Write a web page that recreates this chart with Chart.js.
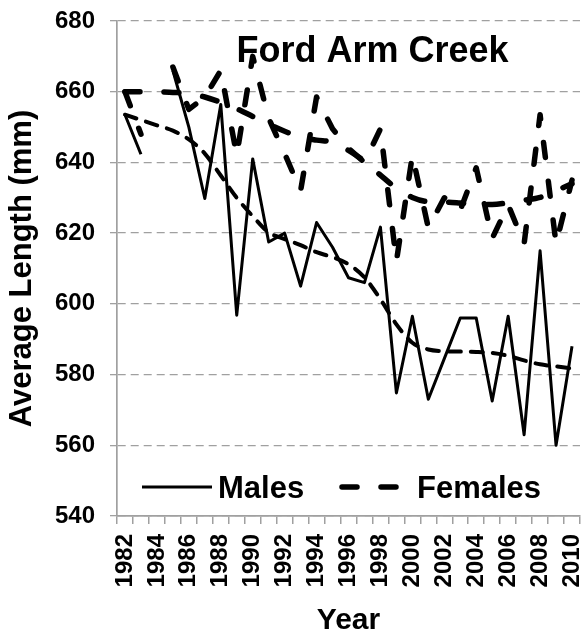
<!DOCTYPE html>
<html>
<head>
<meta charset="utf-8">
<script src="https://cdn.jsdelivr.net/npm/chart.js@4.4.1/dist/chart.umd.min.js"></script>
<style>
  html, body { margin: 0; padding: 0; background: #ffffff; }
  #wrap { width: 582px; height: 639px; position: relative; }
</style>
</head>
<body>
<div id="wrap"><canvas id="c"></canvas></div>
<script>
// ---- data ----
const years = ['1982','1983','1984','1985','1986','1987','1988','1989','1990','1991',
               '1992','1993','1994','1995','1996','1997','1998','1999','2000','2001',
               '2002','2003','2004','2005','2006','2007','2008','2009','2010'];

const males = [653.5, 642.3, null, 666, 650, 629.8, 656.4, 596.8, 641, 617.5,
               620, 605, 623, 616, 607.4, 606, 621.7, 574.8, 596.5, 573,
               584.5, 596, 596, 572.5, 596.5, 563, 615, 560, 588];

const females = [660, 648, null, 667, 655, 658.5, 666, 642, 670, 652.5,
                 642.5, 632, 658.5, 649.5, 644, 640, 649.5, 612, 642, 621.5,
                 630, 626.5, 638.5, 618.5, 628, 617, 653.5, 617, 635];

const malesTrend = [653.5, 652, 650.5, 649, 646.5, 642.5, 636.3, 630, 624.8, 620.2,
                    618.3, 616.6, 614.6, 613.2, 611.2, 607.5, 601.3, 594.2, 589, 587.1,
                    586.6, 586.5, 586.4, 586.1, 585.3, 584, 582.9, 582.3, 581.7];

const femalesTrend = [660, 660, 660, 659.8, 659.5, 658.5, 657, 655.2, 653, 650.8,
                      648.8, 647.2, 646.3, 645.7, 643.4, 640.3, 636.4, 632.7, 630.1, 628.9,
                      628.8, 628.5, 628.1, 628.1, 628.6, 629.3, 630.1, 632, 634];

const yMin = 540, yMax = 680, yStep = 20;
const titleText = 'Ford Arm Creek';
const xTitle = 'Year';
const yTitle = 'Average Length (mm)';
const seriesNames = ['Males', 'Females'];

// ---- drawing ----
const FONT = '"Liberation Sans", Arial, sans-serif';
const GRID = '#a0a0a0';

const insideText = {
  id: 'insideText',
  afterDraw(chart) {
    const ctx = chart.ctx;
    const a = chart.chartArea;
    ctx.save();
    // title inside the plot
    ctx.fillStyle = '#000';
    ctx.font = 'bold 36px ' + FONT;
    ctx.textAlign = 'center';
    ctx.textBaseline = 'alphabetic';
    ctx.fillText(titleText, a.left + 0.552 * (a.right - a.left), a.top + 41);

    // legend inside the plot
    const ly = a.bottom - 29;
    const ds = chart.data.datasets;
    const items = [
      { d: ds[0], x0: 142, x1: 212, tx: 218 },
      { d: ds[1], x0: 342, x1: 399, tx: 417 }
    ];
    items.forEach(it => {
      ctx.save();
      ctx.strokeStyle = it.d.borderColor;
      ctx.lineWidth = it.d.borderWidth;
      ctx.lineCap = it.d.borderCapStyle || 'butt';
      ctx.setLineDash(it.d.borderDash || []);
      ctx.beginPath();
      ctx.moveTo(it.x0, ly);
      ctx.lineTo(it.x1, ly);
      ctx.stroke();
      ctx.restore();
      ctx.fillStyle = '#000';
      ctx.font = 'bold 31px ' + FONT;
      ctx.textAlign = 'left';
      ctx.textBaseline = 'alphabetic';
      ctx.fillText(it.d.label, it.tx, ly + 11);
    });
    ctx.restore();
  }
};

new Chart(document.getElementById('c'), {
  type: 'line',
  data: {
    labels: years,
    datasets: [
      { label: seriesNames[0], data: males, borderColor: '#000', borderWidth: 3,
        borderCapStyle: 'butt', borderJoinStyle: 'round', pointRadius: 0, tension: 0, spanGaps: false, order: 1 },
      { label: seriesNames[1], data: females, borderColor: '#000', borderWidth: 5.5, borderDash: [15, 24],
        borderCapStyle: 'round', borderJoinStyle: 'round', pointRadius: 0, tension: 0, spanGaps: false, order: 2 },
      { label: 'Males trend', data: malesTrend, borderColor: '#000', borderWidth: 4, borderDash: [12, 10],
        borderCapStyle: 'round', pointRadius: 0, cubicInterpolationMode: 'monotone', order: 3 },
      { label: 'Females trend', data: femalesTrend, borderColor: '#000', borderWidth: 5.5, borderDash: [15, 24],
        borderCapStyle: 'round', pointRadius: 0, cubicInterpolationMode: 'monotone', order: 4 }
    ]
  },
  options: {
    responsive: true,
    maintainAspectRatio: false,
    animation: false,
    devicePixelRatio: 1,
    layout: { padding: { top: 21, right: 2, left: 0, bottom: 0 } },
    plugins: { legend: { display: false }, title: { display: false }, tooltip: { enabled: false } },
    scales: {
      x: {
        type: 'category',
        offset: true,
        grid: { display: true, offset: true, drawOnChartArea: false, drawTicks: true, tickLength: 8, color: GRID, lineWidth: 1.5 },
        border: { display: true, color: GRID, width: 1.7 },
        ticks: {
          autoSkip: false,
          minRotation: 90,
          maxRotation: 90,
          padding: 10,
          color: '#000',
          font: { family: FONT, size: 24, weight: 'bold' },
          callback: function (val, idx) { return idx % 2 === 0 ? years[idx] : ''; }
        },
        title: { display: true, text: xTitle, color: '#000',
          font: { family: FONT, size: 30, weight: 'bold', lineHeight: 1.2 }, padding: { top: 0, bottom: 0 } },
        afterCalculateLabelRotation(scale) { scale.labelRotation = 90; },
        afterFit(scale) { scale.height = 123; scale.paddingLeft = 0; scale.paddingRight = 0; }
      },
      y: {
        min: yMin,
        max: yMax,
        grid: { color: GRID, lineWidth: 1.3, tickBorderDash: [], drawTicks: true, tickLength: 7, tickColor: GRID },
        border: { display: true, color: GRID, width: 1.7, dash: [8, 5] },
        ticks: { stepSize: yStep, padding: 15, color: '#000', font: { family: FONT, size: 24, weight: 'bold' } },
        title: { display: true, text: yTitle, color: '#000',
          font: { family: FONT, size: 31, weight: 'bold', lineHeight: 1.2 }, padding: { top: 4, bottom: 0 } },
        afterFit(scale) { scale.width = 117; scale.paddingTop = 0; scale.paddingBottom = 0; }
      }
    }
  },
  plugins: [insideText]
});
</script>
</body>
</html>
